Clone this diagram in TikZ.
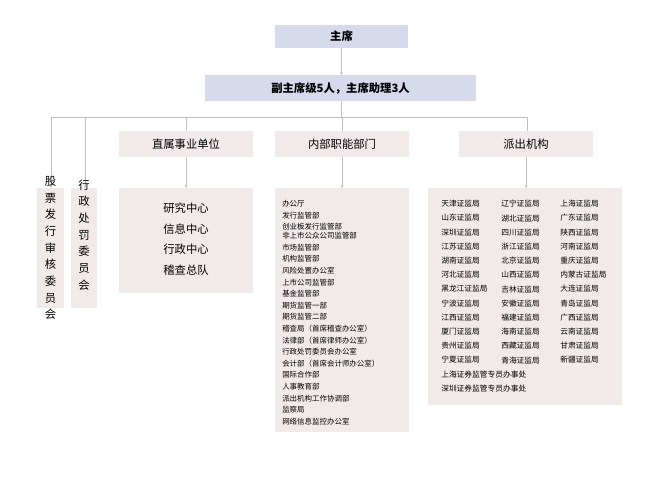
\documentclass[tikz,border=0pt]{standalone}
\usepackage{fontspec}
\usetikzlibrary{arrows.meta}
\setmainfont{Noto Sans CJK SC}
\definecolor{topc}{RGB}{214,218,236}
\definecolor{pinkc}{RGB}{241,233,234}
\begin{document}
\begin{tikzpicture}[x=0.75pt,y=-0.75pt,
  top/.style={fill=topc,draw=none},
  pinkbox/.style={fill=pinkc,draw=none},
  conn/.style={draw=gray!50,line width=0.5pt},
  arr/.style={conn,-{Stealth[length=2pt,width=2pt]}}]
\useasboundingbox (0,0) rectangle (653,500);
\fill[top] (275,25) rectangle (408,48);
\node[font=\bfseries\fontsize{8.5}{10}\selectfont] (zx) at (341.5,36.5) {主席};
\fill[top] (205,75) rectangle (476,101);
\node[font=\bfseries\fontsize{8.5}{10}\selectfont] (fzx) at (340.5,88) {副主席级5人，主席助理3人};
\draw[arr] (341.5,48) -- (341.5,75);
% headers
\fill[pinkbox] (119,131) rectangle (253,157);
\node[font=\fontsize{8.5}{10}\selectfont] (h1) at (186,144) {直属事业单位};
\fill[pinkbox] (275,131) rectangle (409,157);
\node[font=\fontsize{8.5}{10}\selectfont] (h2) at (342,144) {内部职能部门};
\fill[pinkbox] (459,131) rectangle (593,157);
\node[font=\fontsize{8.5}{10}\selectfont] (h3) at (526,144) {派出机构};
% bus
\coordinate (bl) at (51,117); \coordinate (br) at (527,117);
\draw[conn] (341.5,101) -- (341.5,117);
\draw[conn] (bl) -- (br) -- (527,131);
\draw[arr] (bl) -- (51,188);
\draw[arr] (85,117) -- (85,188);
\draw[conn] (186,117) -- (186,131);
\draw[conn] (342,117) -- (342,131);
% vertical boxes
\fill[pinkbox] (37,188) rectangle (64,308);
\node[font=\fontsize{8.5}{12.5}\selectfont,align=center,inner sep=0] (v1) at (50.5,248) {股\\票\\发\\行\\审\\核\\委\\员\\会};
\fill[pinkbox] (71,188) rectangle (97,308);
\node[font=\fontsize{8.5}{12.5}\selectfont,align=center,inner sep=0] (v2) at (84,235) {行\\政\\处\\罚\\委\\员\\会};
% content boxes
\draw[arr] (186,157) -- (186,188);
\draw[arr] (342,157) -- (342,188);
\draw[arr] (526,157) -- (526,188);
\fill[pinkbox] (119,188) rectangle (253,293);
\node[font=\fontsize{8.5}{15.5}\selectfont,align=center,inner sep=0] (c1) at (186,239) {研究中心\\信息中心\\行政中心\\稽查总队};
\fill[pinkbox] (275,188) rectangle (409,432);
\node[font=\fontsize{5.6}{8.7}\selectfont,align=left,anchor=north west,inner sep=0] (c2) at (282,200) {办公厅\\发行监管部\\创业板发行监管部\\[-2pt]非上市公众公司监管部\\市场监管部\\机构监管部\\风险处置办公室\\上市公司监管部\\基金监管部\\期货监管一部\\期货监管二部\\稽查局（首席稽查办公室）\\法律部（首席律师办公室）\\行政处罚委员会办公室\\会计部（首席会计师办公室）\\国际合作部\\人事教育部\\派出机构工作协调部\\监察局\\网络信息监控办公室};
\fill[pinkbox] (428,188) rectangle (622,405);
\node[font=\fontsize{5.8}{10.65}\selectfont,align=left,anchor=north west,inner sep=0] (c3a) at (441,200) {天津证监局\\山东证监局\\深圳证监局\\江苏证监局\\湖南证监局\\河北证监局\\黑龙江证监局\\宁波证监局\\江西证监局\\厦门证监局\\贵州证监局\\宁夏证监局\\上海证券监管专员办事处\\深圳证券监管专员办事处};
\node[font=\fontsize{5.8}{10.65}\selectfont,align=left,anchor=north west,inner sep=0] (c3b) at (501,200) {辽宁证监局\\湖北证监局\\四川证监局\\浙江证监局\\北京证监局\\山西证监局\\吉林证监局\\安徽证监局\\福建证监局\\海南证监局\\西藏证监局\\青海证监局};
\node[font=\fontsize{5.8}{10.65}\selectfont,align=left,anchor=north west,inner sep=0] (c3c) at (560,200) {上海证监局\\广东证监局\\陕西证监局\\河南证监局\\重庆证监局\\内蒙古证监局\\大连证监局\\青岛证监局\\广西证监局\\云南证监局\\甘肃证监局\\新疆证监局};
\end{tikzpicture}
\end{document}
